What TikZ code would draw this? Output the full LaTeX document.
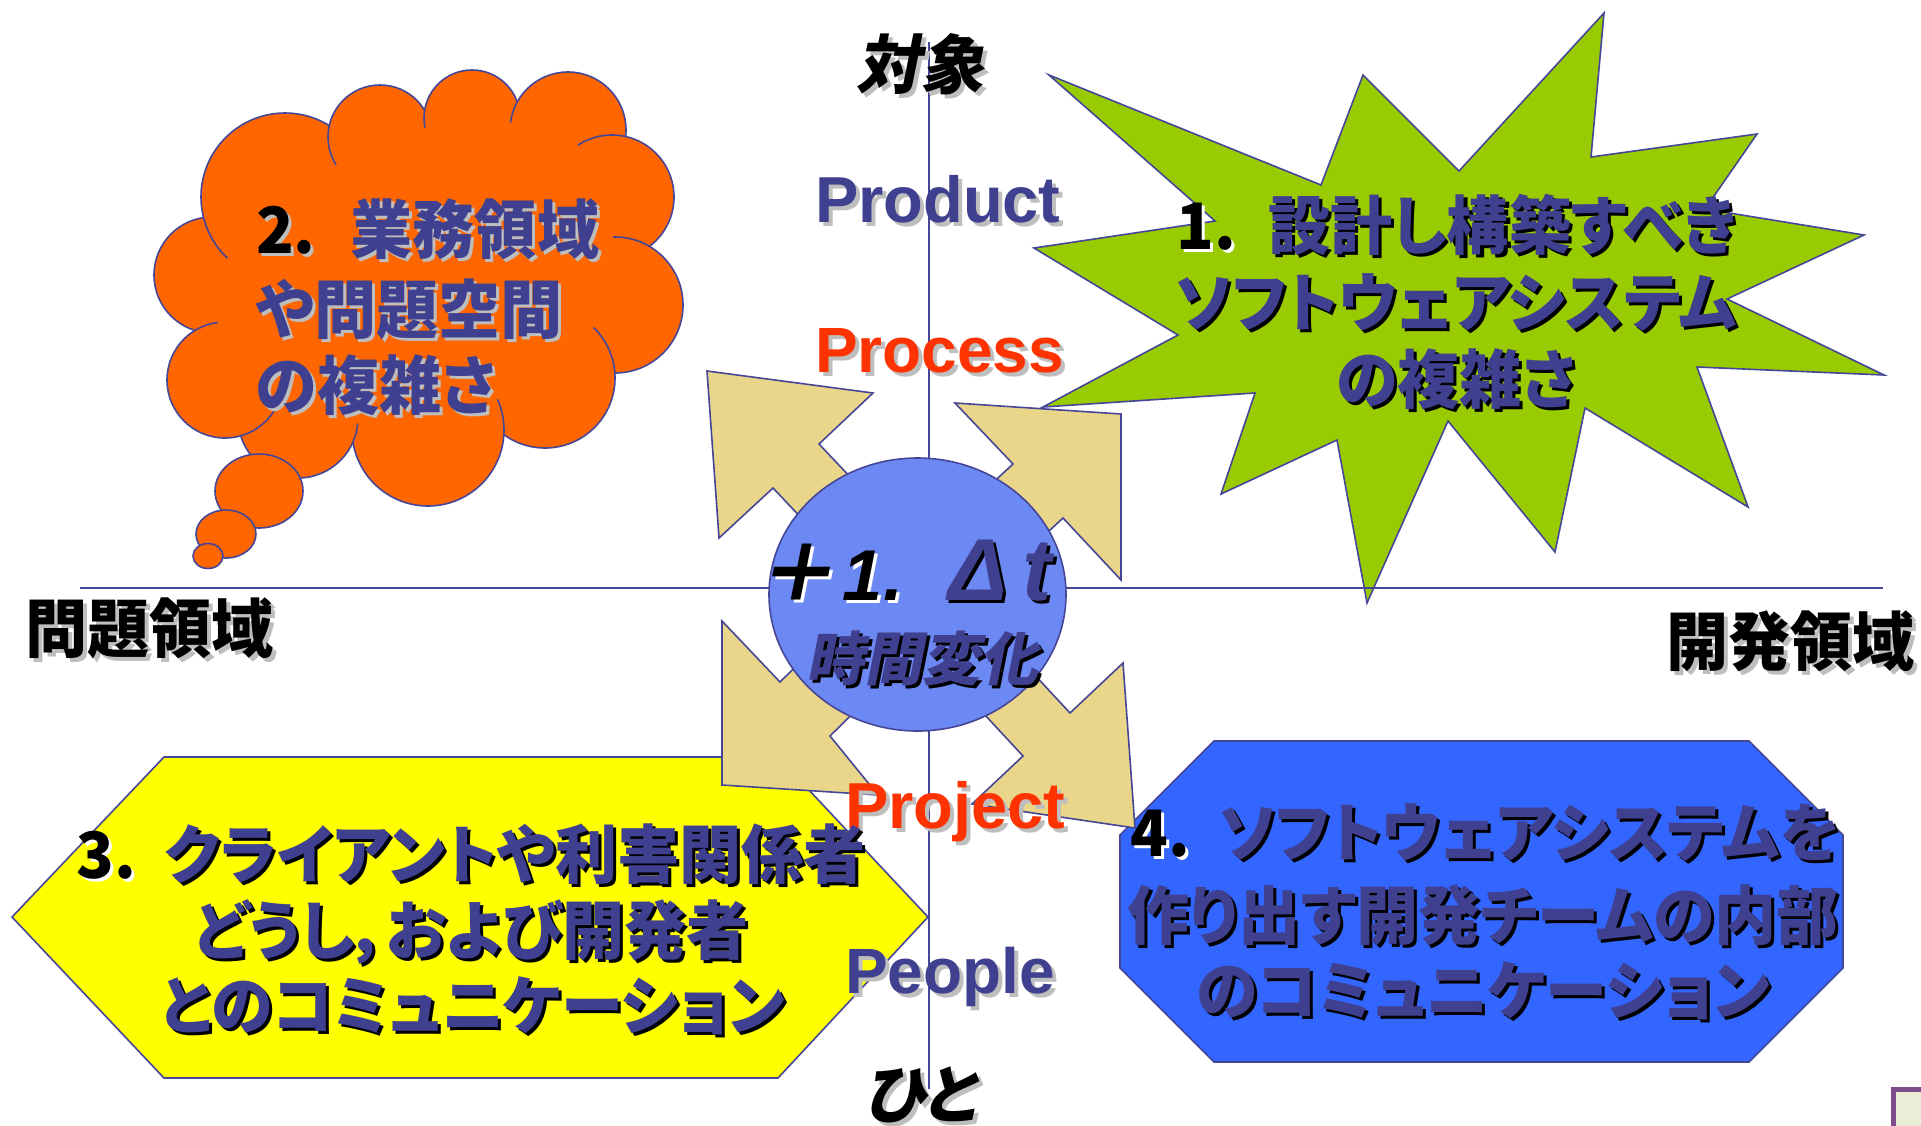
\documentclass[tikz,border=0pt]{standalone}
\usepackage{fontspec}
\usetikzlibrary{shapes.geometric}
\setmainfont{Liberation Sans}
\newfontfamily\jp{Noto Sans CJK JP}[RawFeature=+palt,FakeStretch=0.97]
\newfontfamily\jpit{Noto Sans CJK JP}[RawFeature=+palt,FakeSlant=0.2]
\definecolor{tblue}{RGB}{64,64,144}
\definecolor{lineblue}{RGB}{70,70,150}
\definecolor{cloudor}{RGB}{255,102,0}
\definecolor{stargr}{RGB}{153,204,0}
\definecolor{hexyel}{RGB}{255,255,0}
\definecolor{octblue}{RGB}{51,102,255}
\definecolor{circblue}{RGB}{108,136,242}
\definecolor{arrtan}{RGB}{233,214,138}
\definecolor{redtxt}{RGB}{255,51,0}
\definecolor{shgrey}{RGB}{190,190,190}
\definecolor{boxpurple}{RGB}{128,77,140}
\definecolor{boxfill}{RGB}{234,238,214}
\newcommand\shd[4]{\rlap{\hspace*{#1}\raisebox{-#1}{\color{#2}#4}}{\color{#3}#4}}
\newcommand\JB{\jp\bfseries}
\newcommand\JI{\jpit\bfseries}
\newcommand\fsA{\fontsize{64}{78}\selectfont}
\begin{document}
\begin{tikzpicture}[x=1pt,y=-1pt,
  outl/.style={draw=lineblue,line width=1.6pt,line join=miter},
  lbl/.style={inner sep=0pt,outer sep=0pt},
  arrowshape/.style={outl,fill=arrtan},
  cloudpart/.style={outl,fill=cloudor}]
\useasboundingbox (0,0) rectangle (1921,1125);
\clip (0,0) rectangle (1921,1125);
\fill[white] (0,0) rectangle (1921,1125);

% star
\draw[outl,fill=stargr] (1049,75) -- (1321,185) -- (1363,75) -- (1459,171) -- (1604,13) -- (1591,157)
 -- (1757,134) -- (1705,209) -- (1864,235) -- (1727,299) -- (1884,375) -- (1697,367) -- (1748,507)
 -- (1585,408) -- (1555,552) -- (1448,421) -- (1367,603) -- (1337,440) -- (1221,494) -- (1255,393)
 -- (1043,407) -- (1178,335) -- (1034,248) -- (1215,221) -- cycle;

% cloud
\foreach \cx/\cy/\r in {212/275/58, 285/197/84, 380/137/52, 472/118/48, 568/130/58, 612/197/62,
  615/305/68, 545/378/70, 428/430/76, 298/418/60, 225/380/58}
  {\draw[cloudpart] (\cx,\cy) circle [radius=\r pt];}
\fill[cloudor] (212,275) -- (285,197) -- (380,137) -- (472,118) -- (568,130) -- (612,197) -- (615,305)
  -- (545,378) -- (428,430) -- (298,418) -- (225,380) -- cycle;
\draw[cloudpart] (259,491) ellipse [x radius=44pt, y radius=37pt];
\draw[cloudpart] (226,534) ellipse [x radius=30pt, y radius=24pt];
\draw[cloudpart] (208,556) ellipse [x radius=15pt, y radius=12.5pt];

% hexagon and octagon
\draw[outl,fill=hexyel] (12,917) -- (164,757) -- (778,757) -- (928,917) -- (778,1078) -- (164,1078) -- cycle;
\draw[outl,fill=octblue] (1214,741) -- (1749,741) -- (1843,835) -- (1843,968) -- (1749,1062) -- (1214,1062) -- (1120,968) -- (1120,835) -- cycle;

% axes
\coordinate (axL) at (80,588);
\coordinate (axR) at (1883,588);
\coordinate (axT) at (929,42);
\coordinate (axB) at (929,1089);
\draw[lineblue,line width=1.6pt] (axL) -- (axR);
\draw[lineblue,line width=1.6pt] (axT) -- (axB);

% arrows
\draw[arrowshape] (707,371) -- (873,393) -- (819,444) -- (922,553) -- (876,597) -- (773,488) -- (719,538) -- cycle;
\draw[arrowshape] (1121,414) -- (955,403) -- (1013,464) -- (903,566) -- (953,620) -- (1063,518) -- (1121,580) -- cycle;
\draw[arrowshape] (722,785) -- (722,621) -- (780,682) -- (887,577) -- (937,631) -- (830,736) -- (878,795) -- cycle;
\draw[arrowshape] (1135,828) -- (1123,663) -- (1070,713) -- (968,603) -- (921,646) -- (1023,756) -- (972,804) -- cycle;

% centre circle
\node[outl,fill=circblue,ellipse,minimum width=297pt,minimum height=273pt,inner sep=0pt] (tc) at (917.5,594.5) {};

% circle texts
\node[lbl,anchor=base] (plus) at (795,602) {\JI\fontsize{80}{84}\selectfont\shd{3pt}{white}{black}{＋}};
\node[lbl,anchor=base] (one) at (873,600) {\bfseries\itshape\fontsize{72}{80}\selectfont\shd{3pt}{white}{black}{1.}};
\node[lbl,anchor=base] (dt) at (1000,600) {\bfseries\itshape\fontsize{88}{90}\selectfont\shd{3pt}{black}{tblue}{Δ\,t}};
\node[lbl,anchor=base] (jikan) at (922,680) {\JI\fontsize{58}{60}\selectfont\shd{3pt}{black}{tblue}{時間変化}};

% axis labels
\node[lbl,anchor=base] (taisho) at (920,88) {\JI\fsA\shd{4pt}{shgrey}{black}{対象}};
\node[lbl,anchor=base] (hito) at (920,1118) {\JI\fsA\shd{4pt}{shgrey}{black}{ひと}};
\node[lbl,anchor=base west] (mondai) at (25,652) {\JB\fsA\shd{4pt}{shgrey}{black}{問題領域}};
\node[lbl,anchor=base east] (kaihatsu) at (1915,665) {\JB\fsA\shd{4pt}{shgrey}{black}{開発領域}};

% P labels
\node[lbl,anchor=base west] (product) at (815,222) {\bfseries\fontsize{65}{70}\selectfont\shd{4pt}{shgrey}{tblue}{Product}};
\node[lbl,anchor=base west] (process) at (815,372) {\bfseries\fontsize{64}{70}\selectfont\shd{4pt}{shgrey}{redtxt}{Process}};
\node[lbl,anchor=base west] (project) at (845,828) {\bfseries\fontsize{65}{70}\selectfont\shd{4pt}{shgrey}{redtxt}{Project}};
\node[lbl,anchor=base west] (people) at (845,993) {\bfseries\fontsize{64}{70}\selectfont\shd{4pt}{shgrey}{tblue}{People}};

% star text
\node[lbl,anchor=base] (s1) at (1457,249) {\JB\fsA\shd{3pt}{white}{black}{1.}\hspace{0.5em}\shd{3pt}{black}{tblue}{設計し構築すべき}};
\node[lbl,anchor=base] (s2) at (1456,326) {\JB\fsA\shd{3pt}{black}{tblue}{ソフトウェアシステム}};
\node[lbl,anchor=base] (s3) at (1456,403) {\JB\fsA\shd{3pt}{black}{tblue}{の複雑さ}};

% cloud text
\node[lbl,anchor=base west] (c1) at (256,253) {\JB\fsA\shd{3pt}{shgrey}{black}{2.}\hspace{0.55em}\shd{3pt}{shgrey}{tblue}{業務領域}};
\node[lbl,anchor=base west] (c2) at (256,333) {\JB\fsA\shd{3pt}{shgrey}{tblue}{や問題空間}};
\node[lbl,anchor=base west] (c3) at (256,409) {\JB\fsA\shd{3pt}{shgrey}{tblue}{の複雑さ}};

% hexagon text
\node[lbl,anchor=base] (h1) at (471,878) {\JB\fsA\shd{3pt}{white}{black}{3.}\hspace{0.45em}\shd{3pt}{black}{tblue}{クライアントや利害関係者}};
\node[lbl,anchor=base] (h2) at (471,954) {\JB\fsA\shd{3pt}{black}{tblue}{どうし，および開発者}};
\node[lbl,anchor=base] (h3) at (473,1029) {\JB\fsA\shd{3pt}{black}{tblue}{とのコミュニケーション}};

% octagon text
\node[lbl,anchor=base] (o1) at (1485,856) {\JB\fsA\shd{3pt}{white}{black}{4.}\hspace{0.45em}\shd{3pt}{black}{tblue}{ソフトウェアシステムを}};
\node[lbl,anchor=base] (o2) at (1483,939) {\JB\fsA\shd{3pt}{black}{tblue}{作り出す開発チームの内部}};
\node[lbl,anchor=base] (o3) at (1483,1014) {\JB\fsA\shd{3pt}{black}{tblue}{のコミュニケーション}};

% corner box
\draw[draw=boxpurple,fill=boxfill,line width=5pt] (1893.5,1089.5) rectangle (1950,1150);
\end{tikzpicture}
\end{document}
